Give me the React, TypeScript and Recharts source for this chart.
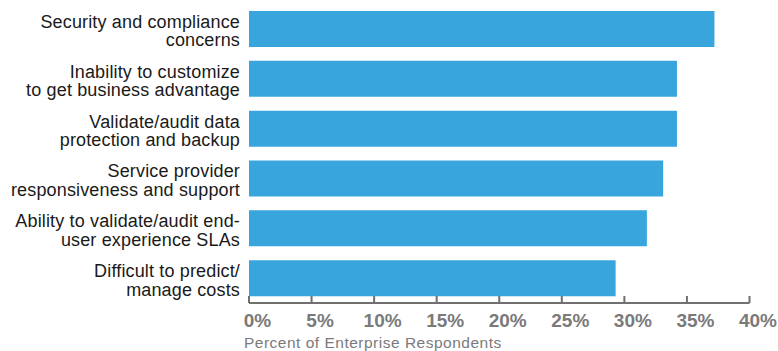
import React from 'react';
import { BarChart, Bar, XAxis, YAxis } from 'recharts';

const categories = [
  'Security and compliance concerns',
  'Inability to customize to get business advantage',
  'Validate/audit data protection and backup',
  'Service provider responsiveness and support',
  'Ability to validate/audit end-user experience SLAs',
  'Difficult to predict/manage costs',
];
const labelLine1 = [
  'Security and compliance',
  'Inability to customize',
  'Validate/audit data',
  'Service provider',
  'Ability to validate/audit end-',
  'Difficult to predict/',
];
const labelLine2 = [
  'concerns',
  'to get business advantage',
  'protection and backup',
  'responsiveness and support',
  'user experience SLAs',
  'manage costs',
];
const values = [37.2, 34.2, 34.2, 33.1, 31.8, 29.3];
const xTicks = [0, 5, 10, 15, 20, 25, 30, 35, 40];
const axisTitle = 'Percent of Enterprise Respondents';

const data = categories.map((c, i) => ({ name: c, value: values[i], i }));

const FONT = '"Liberation Sans", Arial, Helvetica, sans-serif';

const YTick = (props: any) => {
  const { x, y, payload } = props;
  const idx = categories.indexOf(payload.value);
  return (
    <g>
      <text x={x - 9} y={y - 1} textAnchor="end" fontSize={18} fill="#1a1a1a" fontFamily={FONT} letterSpacing={0.15}>
        {labelLine1[idx]}
      </text>
      <text x={x - 9} y={y + 17.5} textAnchor="end" fontSize={18} fill="#1a1a1a" fontFamily={FONT} letterSpacing={0.15}>
        {labelLine2[idx]}
      </text>
    </g>
  );
};

const XTick = (props: any) => {
  const { x, y, payload } = props;
  return (
    <g>
      <line x1={x} x2={x} y1={y} y2={y - 7} stroke="#707070" strokeWidth={2} />
      <text
        x={x + 8.5}
        y={y + 24}
        textAnchor="middle"
        fontSize={19}
        fontWeight="bold"
        fill="#7a7a7a"
        fontFamily={FONT}
      >
        {`${payload.value}%`}
      </text>
    </g>
  );
};

export default function App() {
  return (
    <div style={{ position: 'absolute', left: 0, top: 0, width: 778, height: 351, background: '#fff' }}>
      <BarChart
        width={778}
        height={351}
        data={data}
        layout="vertical"
        margin={{ top: 4, right: 28.5, bottom: 0, left: 0 }}
      >
        <XAxis
          type="number"
          domain={[0, 40]}
          ticks={xTicks}
          interval={0}
          tickLine={false}
          tickSize={0}
          tickMargin={0}
          height={48}
          axisLine={{ stroke: '#707070', strokeWidth: 2 }}
          tick={<XTick />}
        />
        <YAxis
          type="category"
          dataKey="name"
          width={249}
          axisLine={false}
          tickLine={false}
          tickSize={0}
          tickMargin={0}
          interval={0}
          tick={<YTick />}
        />
        <Bar dataKey="value" fill="#38a5dd" barSize={36} isAnimationActive={false} />
        <text x={244} y={348} fontSize={15.5} fill="#7a7a7a" fontFamily={FONT} letterSpacing={0.5}>
          {axisTitle}
        </text>
      </BarChart>
    </div>
  );
}
